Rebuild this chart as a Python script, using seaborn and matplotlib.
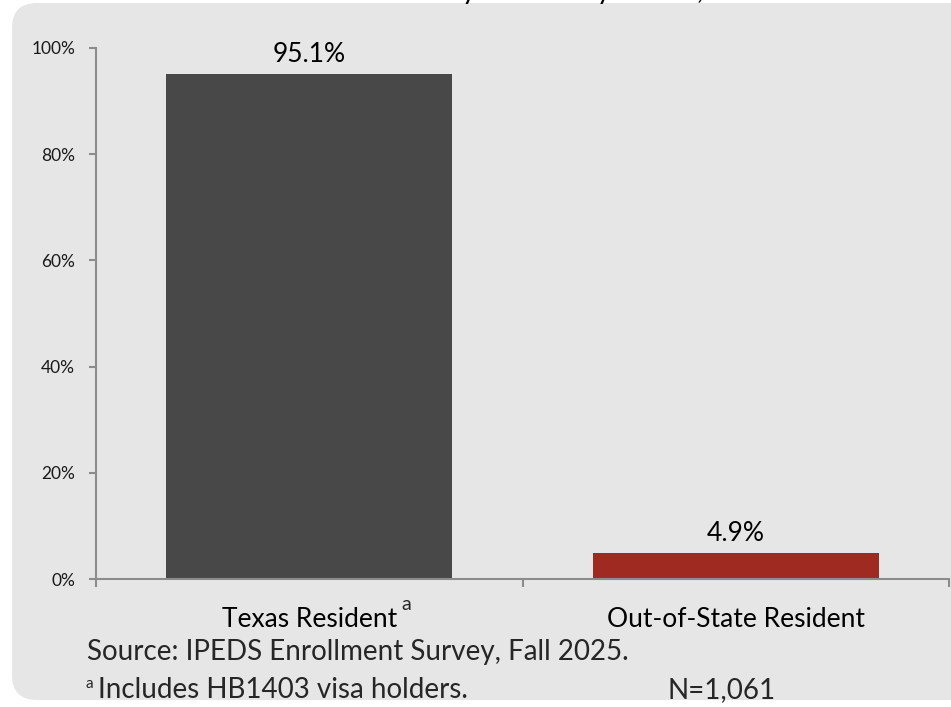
import matplotlib.pyplot as plt
import matplotlib.transforms as mtransforms
from matplotlib.patches import FancyBboxPatch
from matplotlib.ticker import FixedLocator
import seaborn as sns

categories = ["Texas Resident", "Out-of-State Resident"]
values = [95.1, 4.9]
bar_colors = ["#484848", "#9e2a22"]
y_ticks = [0, 20, 40, 60, 80, 100]
title = "Student Enrollment by Residency Status, Fall 2025"
source_note = "Source: IPEDS Enrollment Survey, Fall 2025."
footnote = "Includes HB1403 visa holders."
n_note = "N=1,061"

sns.set_style("white")
plt.rcParams["font.family"] = ["Lato", "DejaVu Sans"]

W, H = 951, 707
fig = plt.figure(figsize=(W / 100, H / 100), dpi=100)
fig.patch.set_facecolor("white")

# grey rounded panel behind everything (pixel coords)
panel = FancyBboxPatch((12 + 25, 7 + 25), 1000, H - 10 - 50,
                       boxstyle="round,pad=25,rounding_size=25",
                       transform=mtransforms.IdentityTransform(),
                       facecolor="#e6e6e6", edgecolor="none", zorder=-10)
fig.patches.append(panel)

# title mostly cut off at the top, only descenders show
fig.text(195 / W, 1 + 1 / H, title, ha="left", va="baseline", fontsize=20.5,
         color="black", zorder=5)

ax = fig.add_axes([96 / W, 1 - 579 / H, (949 - 96) / W, (579 - 48) / H])
ax.set_facecolor("none")
ax.set_zorder(2)

sns.barplot(x=categories, y=values, hue=categories, palette=bar_colors,
            saturation=1, width=0.67, legend=False, linewidth=0, ax=ax)

ax.set_xlim(-0.5, 1.5)
ax.set_ylim(0, 100)
ax.set_yticks(y_ticks)
ax.set_yticklabels([f"{t}%" for t in y_ticks], fontsize=12.5, color="#1a1a1a")
ax.set_xticks(range(len(categories)))
ax.set_xticklabels(categories, fontsize=19, color="black")
ax.xaxis.set_minor_locator(FixedLocator([-0.5, 0.5, 1.5]))
ax.tick_params(axis="x", which="major", bottom=True, length=0, pad=20)
ax.tick_params(axis="x", which="minor", bottom=True, length=6, width=1.5,
               color="#8c8c8c", direction="out")
ax.tick_params(axis="y", left=True, length=5, width=1.5, color="#8c8c8c",
               direction="out", pad=10)
ax.set_xlabel("")
ax.set_ylabel("")

for s in ["top", "right"]:
    ax.spines[s].set_visible(False)
for s in ["left", "bottom"]:
    ax.spines[s].set_color("#8c8c8c")
    ax.spines[s].set_linewidth(1.5)

for cont in ax.containers:
    ax.bar_label(cont, labels=[f"{v:.1f}%" for v in cont.datavalues],
                 padding=5, fontsize=19, color="black")

# superscript on Texas Resident
fig.text(401 / W, 1 - 604 / H, "a", fontsize=14, ha="left", va="center")

fig.text(87 / W, 1 - 652 / H, source_note, fontsize=20, ha="left", va="center")
fig.text(86 / W, 1 - 684 / H, "a", fontsize=11, ha="left", va="center")
fig.text(98 / W, 1 - 690 / H, footnote, fontsize=20, ha="left", va="center")
fig.text(667 / W, 1 - 690 / H, n_note, fontsize=20, ha="left", va="center")

fig.savefig("out.png", dpi=100)
